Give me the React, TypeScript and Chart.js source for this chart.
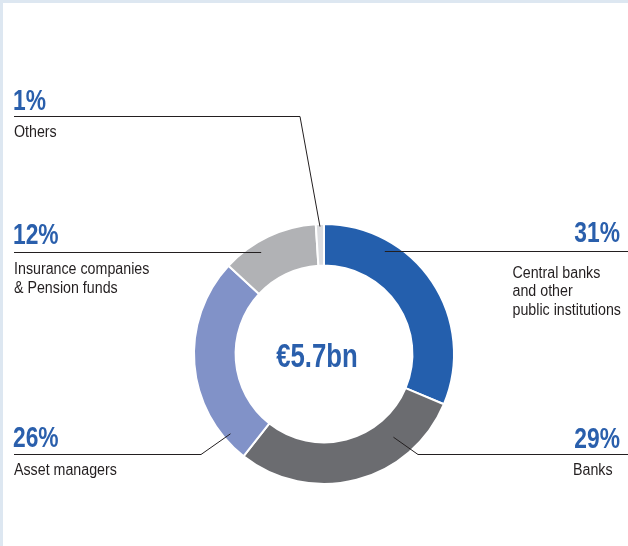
import React, { useEffect, useRef } from "react";
import { Chart, registerables } from "chart.js";

Chart.register(...registerables);

// ---- data ----
const categories = [
  "Central banks and other public institutions",
  "Banks",
  "Asset managers",
  "Insurance companies & Pension funds",
  "Others",
];
const shares = [31, 29, 26, 12, 1];
const pctLabels = ["31%", "29%", "26%", "12%", "1%"];
const labelLines = [
  ["Central banks", "and other", "public institutions"],
  ["Banks"],
  ["Asset managers"],
  ["Insurance companies", "& Pension funds"],
  ["Others"],
];
const totalLabel = "€5.7bn";

// ---- styles ----
const sliceColors = ["#245fad", "#6b6c70", "#8192c8", "#b1b2b5", "#dcdde0"];
const BLUE = "#2a5fac";
const INK = "#231f20";
const FAMILY = '"Liberation Sans", Arial, sans-serif';

// label layout: side, leader y, pct baseline, text x, first text baseline, line gap, elbow x, pointer (fraction of slice angle, fraction of ring depth)
const layout = [
  { side: "right", lineY: 251.5, pctBase: 241.5, textX: 512.5, textBase: 277.5, gap: 18.5, elbowX: null, pa: 0.27, pr: 0.76 },
  { side: "right", lineY: 454.5, pctBase: 448, textX: 573, textBase: 475, gap: 19, elbowX: 418, pa: 0.26, pr: 0.48 },
  { side: "left", lineY: 454.5, pctBase: 447, textX: 14, textBase: 475, gap: 19, elbowX: 201, pa: 0.12, pr: 0.83 },
  { side: "left", lineY: 252.5, pctBase: 244, textX: 14, textBase: 273.5, gap: 19.4, elbowX: null, pa: 0.36, pr: 0.76 },
  { side: "left", lineY: 116.5, pctBase: 109.5, textX: 14, textBase: 136.5, gap: 19, elbowX: 300, pa: 0.5, pr: 0.94 },
];

function narrowText(ctx: CanvasRenderingContext2D, text: string, x: number, y: number, align: CanvasTextAlign, font: string, color: string, sx: number) {
  ctx.save();
  ctx.font = font;
  ctx.fillStyle = color;
  ctx.textAlign = align;
  ctx.textBaseline = "alphabetic";
  ctx.scale(sx, 1);
  ctx.fillText(text, x / sx, y);
  ctx.restore();
}

const labelsPlugin = {
  id: "leaderLabels",
  afterDraw(chart: any) {
    const ctx = chart.ctx as CanvasRenderingContext2D;
    const meta = chart.getDatasetMeta(0);
    const W = chart.width;
    ctx.save();
    meta.data.forEach((arc: any, i: number) => {
      const p = arc.getProps(["x", "y", "startAngle", "endAngle", "innerRadius", "outerRadius"], true);
      const L = layout[i];
      const ang = p.startAngle + (p.endAngle - p.startAngle) * L.pa;
      const rad = p.innerRadius + (p.outerRadius - p.innerRadius) * L.pr;
      const px = p.x + Math.cos(ang) * rad;
      const py = p.y + Math.sin(ang) * rad;
      // leader line
      ctx.strokeStyle = INK;
      ctx.lineWidth = 1;
      ctx.beginPath();
      const startX = L.side === "left" ? 14 : W;
      ctx.moveTo(startX, L.lineY);
      if (L.elbowX !== null) {
        ctx.lineTo(L.elbowX, L.lineY);
        ctx.lineTo(px, py);
      } else {
        ctx.lineTo(px, L.lineY);
      }
      ctx.stroke();
      // percentage
      const pf = `bold 30px ${FAMILY}`;
      if (L.side === "left") narrowText(ctx, pctLabels[i], 13, L.pctBase, "left", pf, BLUE, 0.76);
      else narrowText(ctx, pctLabels[i], 620, L.pctBase, "right", pf, BLUE, 0.76);
      // description
      labelLines[i].forEach((t, k) => {
        narrowText(ctx, t, L.textX, L.textBase + k * L.gap, "left", `16px ${FAMILY}`, INK, 0.89);
      });
    });
    // center total
    const a0 = meta.data[0];
    narrowText(ctx, totalLabel, a0.x - 7, a0.y + 12.5, "center", `bold 33px ${FAMILY}`, BLUE, 0.78);
    ctx.restore();
  },
};

export default function App() {
  const ref = useRef<HTMLCanvasElement | null>(null);
  useEffect(() => {
    document.body.style.margin = "0";
    const chart = new Chart(ref.current as HTMLCanvasElement, {
      type: "doughnut",
      data: {
        labels: categories,
        datasets: [
          {
            data: shares,
            backgroundColor: sliceColors,
            borderColor: "#ffffff",
            borderWidth: 2,
          },
        ],
      },
      options: {
        responsive: false,
        animation: false,
        cutout: "68%",
        layout: { padding: { left: 193, right: 173, top: 223, bottom: 61 } },
        plugins: { legend: { display: false }, tooltip: { enabled: false } },
      },
      plugins: [labelsPlugin],
    });
    return () => chart.destroy();
  }, []);
  return (
    <div
      style={{
        position: "relative",
        width: 628,
        height: 546,
        background: "#ffffff",
        boxShadow: "inset 3px 3px 0 #dde7f1",
      }}
    >
      <canvas ref={ref} width={628} height={546} style={{ position: "absolute", left: 0, top: 0 }} />
    </div>
  );
}
